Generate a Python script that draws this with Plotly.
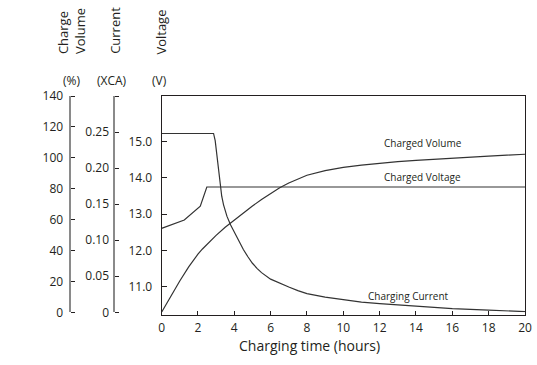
import plotly.graph_objects as go

# ---- data ----
hours_voltage = [0, 1.25, 2.13, 2.49, 20]
voltage_v = [12.61, 12.84, 13.22, 13.75, 13.75]

hours_current = [0, 2.86, 2.95, 3.04, 3.13, 3.22, 3.31, 3.41, 3.6, 3.8, 4.0, 4.25, 4.5,
                 4.75, 5.0, 5.25, 5.5, 6.0, 6.5, 7.0, 7.5, 8.0, 9.0, 10.0, 11.0, 12.0,
                 13.0, 14.0, 16.0, 18.0, 20.0]
current_xca = [0.248, 0.248, 0.238, 0.220, 0.196, 0.176, 0.161, 0.149, 0.133, 0.121,
               0.111, 0.098, 0.087, 0.077, 0.068, 0.061, 0.055, 0.046, 0.040, 0.035,
               0.030, 0.026, 0.021, 0.017, 0.014, 0.012, 0.010, 0.008, 0.005, 0.003,
               0.001]

hours_volume = [0, 0.5, 1, 1.5, 1.75, 2, 2.25, 2.5, 3, 3.5, 4, 4.5, 5, 5.5, 6, 6.5, 7,
                7.5, 8, 9, 10, 11, 12, 13, 14, 15, 16, 17, 18, 19, 20]
volume_pct = [0, 10.3, 20.3, 29.6, 33.8, 37.6, 41.0, 44.1, 49.8, 55.0, 59.8, 64.4, 68.8,
              73.0, 77.0, 80.6, 83.7, 86.4, 88.7, 91.7, 93.8, 95.3, 96.5, 97.5, 98.3,
              99.1, 99.8, 100.5, 101.1, 101.7, 102.3]

x_ticks = list(range(0, 21, 2))
volume_ticks = [0, 20, 40, 60, 80, 100, 120, 140]
current_ticks = [0, 0.05, 0.10, 0.15, 0.20, 0.25, 0.30]
current_ticktext = ["0", "0.05", "0.10", "0.15", "0.20", "0.25", ""]
voltage_ticks = [11.0, 12.0, 13.0, 14.0, 15.0]
volume_range = [0, 140]
current_range = [0, 0.30]
voltage_range = [10.225, 16.255]

# ---- geometry helpers (pixel -> paper) ----
W, H = 537, 365
ML, MR, MT, MB = 0, 12, 96, 50
PW = W - ML - MR
PH = H - MT - MB


def px_x(p):
    return (p - ML) / PW


def px_y(p):
    return (H - MB - p) / PH


FONT = "Open Sans"
TXT = "#231f20"
LINE = "#333333"

fig = go.Figure()
fig.add_trace(go.Scatter(x=hours_voltage, y=voltage_v, mode="lines",
                         line=dict(color=LINE, width=1.2), xaxis="x", yaxis="y",
                         showlegend=False, hoverinfo="skip"))
fig.add_trace(go.Scatter(x=hours_volume, y=volume_pct, mode="lines",
                         line=dict(color=LINE, width=1.2),
                         xaxis="x", yaxis="y2", showlegend=False, hoverinfo="skip"))
fig.add_trace(go.Scatter(x=hours_current, y=current_xca, mode="lines",
                         line=dict(color=LINE, width=1.2),
                         xaxis="x", yaxis="y3", showlegend=False, hoverinfo="skip"))
# empty traces so the tick-only companion axes get drawn
fig.add_trace(go.Scatter(x=[None], y=[None], mode="lines", xaxis="x", yaxis="y4",
                         showlegend=False, hoverinfo="skip"))
fig.add_trace(go.Scatter(x=[None], y=[None], mode="lines", xaxis="x", yaxis="y5",
                         showlegend=False, hoverinfo="skip"))

dom_lo = px_y(312.3)
x0 = px_x(159.5)
pos_vol = px_x(67.5)
pos_cur = px_x(111.7)

label_axis = dict(domain=[dom_lo, 1], ticks="", showline=False, showgrid=False,
                  zeroline=False, anchor="free", side="left",
                  tickfont=dict(size=12, color=TXT))
tick_axis = dict(domain=[dom_lo, 1], ticks="outside", ticklen=4, tickwidth=1.2,
                 tickcolor="#231f20", showticklabels=False,
                 showline=True, linecolor="#8a8a8a", linewidth=2,
                 showgrid=False, zeroline=False, anchor="free", side="right")

fig.update_layout(
    width=W, height=H,
    margin=dict(l=ML, r=MR, t=MT, b=MB, pad=0),
    paper_bgcolor="white",
    plot_bgcolor="rgba(0,0,0,0)",
    font=dict(family=FONT, size=12, color=TXT),
    xaxis=dict(domain=[x0, 1], range=[0, 20], tickvals=x_ticks,
               ticks="inside", ticklen=4, tickcolor="#231f20",
               showline=True, linecolor="#231f20", linewidth=1, mirror=True,
               showgrid=False, zeroline=False, anchor="y",
               tickfont=dict(size=12, color=TXT), ticklabelstandoff=2),
    yaxis=dict(domain=[0, 1], range=voltage_range, tickvals=voltage_ticks,
               tickformat=".1f", ticks="inside", ticklen=5, tickcolor="#231f20",
               showline=True, linecolor="#231f20", linewidth=1, mirror=True,
               showgrid=False, zeroline=False, anchor="x",
               tickfont=dict(size=12, color=TXT), ticklabelstandoff=6),
    yaxis2=dict(label_axis, range=volume_range, tickvals=volume_ticks,
                position=pos_vol, ticklabelstandoff=7),
    yaxis3=dict(label_axis, range=current_range, tickvals=current_ticks,
                ticktext=current_ticktext, position=pos_cur, ticklabelstandoff=5),
    yaxis4=dict(tick_axis, range=volume_range, tickvals=volume_ticks,
                position=pos_vol),
    yaxis5=dict(tick_axis, range=current_range, tickvals=current_ticks,
                position=pos_cur),
)

anns = [
    dict(text="Charge<br>Volume", x=px_x(69.5), y=px_y(56), textangle=-90,
         xanchor="center", yanchor="bottom", align="left", font=dict(size=13)),
    dict(text="Current", x=px_x(112), y=px_y(56), textangle=-90,
         xanchor="center", yanchor="bottom", font=dict(size=13)),
    dict(text="Voltage", x=px_x(159), y=px_y(57), textangle=-90,
         xanchor="center", yanchor="bottom", font=dict(size=13)),
    dict(text="(%)", x=px_x(69), y=px_y(80), xanchor="center", yanchor="middle",
         font=dict(size=12)),
    dict(text="(XCA)", x=px_x(110), y=px_y(80), xanchor="center", yanchor="middle",
         font=dict(size=12)),
    dict(text="(V)", x=px_x(157), y=px_y(80), xanchor="center", yanchor="middle",
         font=dict(size=12)),
    dict(text="Charging time (hours)", x=px_x(308), y=px_y(345), xanchor="center",
         yanchor="middle", font=dict(size=14)),
    dict(text="Charged Volume", x=px_x(422), y=px_y(143), xanchor="center",
         yanchor="middle", font=dict(size=10)),
    dict(text="Charged Voltage", x=px_x(422), y=px_y(177), xanchor="center",
         yanchor="middle", font=dict(size=10)),
    dict(text="Charging Current", x=px_x(408), y=px_y(296), xanchor="center",
         yanchor="middle", font=dict(size=10)),
]
for a in anns:
    a.update(xref="paper", yref="paper", showarrow=False)
    a["font"] = dict(family=FONT, color=TXT, **a["font"])
    fig.add_annotation(**a)

fig.write_html("out.html")
